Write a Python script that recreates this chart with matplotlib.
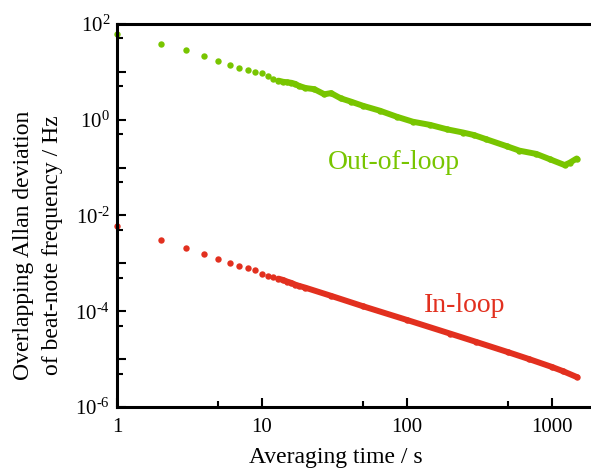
import math

import matplotlib

matplotlib.use("Agg")
import matplotlib.pyplot as plt
from matplotlib.ticker import FuncFormatter, LogLocator, NullFormatter

plt.rcParams["font.family"] = ["Liberation Serif", "DejaVu Serif"]
plt.rcParams["mathtext.fontset"] = "custom"
plt.rcParams["mathtext.rm"] = "Liberation Serif"
plt.rcParams["mathtext.default"] = "regular"

# averaging time (s) and overlapping Allan deviation (Hz)
tau_out = [1, 2, 3, 4, 5, 6, 7, 8, 9, 10, 11, 12, 13, 14, 15, 16, 17, 18,
           20, 23, 27, 30, 35, 41, 50, 65, 85, 110, 145, 190, 245, 290, 355,
           490, 600, 785, 970, 1230, 1330, 1490]
adev_out = [62, 38, 28.6, 21.8, 16.6, 13.7, 11.9, 11.0, 10.1, 9.3, 8.1, 7.1, 6.55, 6.2,
            6.05, 5.9, 5.6, 5.1,
            4.6, 4.35, 3.4, 3.6, 2.8, 2.4, 1.95, 1.55, 1.16, 0.91, 0.78, 0.63, 0.54,
            0.48, 0.39, 0.28, 0.226, 0.193, 0.15, 0.113, 0.126, 0.155]

tau_in = [1, 2, 3, 4, 5, 6, 7, 8, 9, 10, 11, 12, 13, 14, 15, 16, 17, 18,
          20, 30, 50, 100, 200, 300, 500, 700, 1000, 1200, 1500]
adev_in = [6.1e-3, 3.1e-3, 2.07e-3, 1.55e-3, 1.22e-3, 1.03e-3, 8.8e-4, 7.9e-4, 7.1e-4,
           6.1e-4, 5.55e-4, 5.3e-4, 4.8e-4, 4.5e-4, 4.15e-4, 3.9e-4, 3.6e-4, 3.4e-4,
           3.1e-4, 2.1e-4, 1.27e-4, 6.6e-5, 3.4e-5, 2.3e-5, 1.4e-5, 1.0e-5, 6.9e-6,
           5.6e-6, 4.2e-6]

green = "#78c500"
red = "#e2301f"
dense_from = 12  # index where the points merge into a solid band

fig = plt.figure(figsize=(5.91, 4.73), dpi=100)
ax = fig.add_axes([0.198, 0.1395, 0.802, 0.8098])

for tau, adev, color in [(tau_out, adev_out, green), (tau_in, adev_in, red)]:
    ax.plot(tau, adev, "o", color=color, markersize=4.6, markeredgewidth=0, clip_on=False)
    ax.plot(tau[dense_from:], adev[dense_from:], "-", color=color, linewidth=4.3,
            solid_capstyle="round", solid_joinstyle="round")

ax.set_xscale("log")
ax.set_yscale("log")
ax.set_xlim(1, 1870)
ax.set_ylim(1e-6, 1e2)

ax.xaxis.set_major_locator(LogLocator(base=10, subs=(1.0,)))
ax.xaxis.set_minor_locator(LogLocator(base=10, subs=(5.0,)))
ax.xaxis.set_major_formatter(FuncFormatter(lambda v, _: f"{v:g}"))
ax.xaxis.set_minor_formatter(NullFormatter())

ax.yaxis.set_major_locator(LogLocator(base=10, subs=(1.0,), numticks=20))
ax.yaxis.set_minor_locator(LogLocator(base=10, subs=(5.0,), numticks=20))


def ylab(v, _):
    e = int(round(math.log10(v)))
    if e % 2:
        return ""
    return f"10$^{{\\text{{{e}}}}}$"


ax.yaxis.set_major_formatter(FuncFormatter(ylab))
ax.yaxis.set_minor_formatter(NullFormatter())

ax.tick_params(which="both", direction="in", width=1.5, labelsize=15)
ax.tick_params(which="major", length=6.5)
ax.tick_params(which="minor", length=4)
ax.tick_params(axis="x", pad=8)
ax.tick_params(axis="y", pad=5)

for side in ["left", "bottom", "top"]:
    ax.spines[side].set_linewidth(2.2)
ax.spines["right"].set_visible(False)

ax.set_xlabel("Averaging time / s", fontsize=17)
ax.xaxis.set_label_coords(0.462, -0.105)
fig.text(38 / 591, 1 - 245 / 473, "Overlapping Allan deviation\nof beat-note frequency / Hz",
         fontsize=17, rotation=90, ha="center", va="center", ma="center", linespacing=1.45)

ax.text(28.7, 0.13, "Out-of-loop", color=green, fontsize=20, ha="left", va="center")
ax.text(131, 1.3e-4, "In-loop", color=red, fontsize=20, ha="left", va="center")

fig.savefig("out.png", dpi=100)
